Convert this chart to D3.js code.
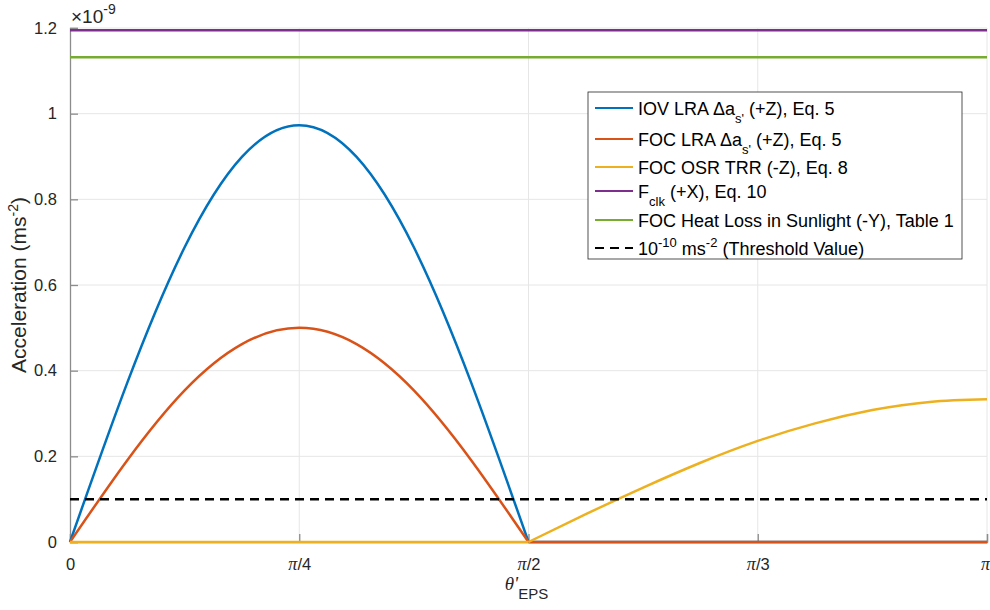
<!DOCTYPE html>
<html>
<head>
<meta charset="utf-8">
<script src="https://cdn.jsdelivr.net/npm/d3@7"></script>
<style>
  body { margin: 0; background: #fff; }
  svg { font-family: "Liberation Sans", Arial, sans-serif; }
</style>
</head>
<body>
<div id="chart"></div>
<script>
// theta' samples, in steps of pi/16 (0 .. pi)
const thetaSteps = d3.range(0, 17);
// acceleration values, units of 1e-9 m s^-2
const iovLra = [0, 0.372, 0.688, 0.899, 0.973, 0.899, 0.688, 0.372, 0, 0, 0, 0, 0, 0, 0, 0, 0];
const focLra = [0, 0.191, 0.354, 0.462, 0.500, 0.462, 0.354, 0.191, 0, 0, 0, 0, 0, 0, 0, 0, 0];
const focOsr = [0, 0, 0, 0, 0, 0, 0, 0, 0, 0.065, 0.127, 0.185, 0.236, 0.277, 0.308, 0.327, 0.333];
const fClk = 1.195;
const heatLoss = 1.132;
const threshold = 0.1;

const xTickLabels = ["0", "\u03C0/4", "\u03C0/2", "\u03C0/3", "\u03C0"];
const yTicks = [0, 0.2, 0.4, 0.6, 0.8, 1, 1.2];

const colors = ["#0072BD", "#D95319", "#EDB120", "#7E2F8E", "#77AC30", "#000000"];

const width = 990, height = 610;
const margin = {left: 70, right: 3, top: 28, bottom: 68};

const svg = d3.select("#chart").append("svg")
  .attr("width", width)
  .attr("height", height);

const x = d3.scaleLinear().domain([0, Math.PI]).range([margin.left, width - margin.right]);
const y = d3.scaleLinear().domain([0, 1.2]).range([height - margin.bottom, margin.top]);

const xTicks = d3.range(0, 5).map(i => i * Math.PI / 4);
const theta = thetaSteps.map(k => k * Math.PI / 16);

// grid
const grid = svg.append("g").attr("stroke", "#e6e6e6").attr("stroke-width", 1);
grid.selectAll("line.gx").data(xTicks.slice(1)).join("line")
  .attr("x1", d => x(d)).attr("x2", d => x(d))
  .attr("y1", y(0)).attr("y2", y(1.2));
grid.selectAll("line.gy").data(yTicks.slice(1)).join("line")
  .attr("x1", x(0)).attr("x2", x(Math.PI))
  .attr("y1", d => y(d)).attr("y2", d => y(d));

// axes
const xAxis = d3.axisBottom(x).tickValues(xTicks).tickSize(-8).tickPadding(12)
  .tickFormat((d, i) => xTickLabels[i]);
const yAxis = d3.axisLeft(y).tickValues(yTicks).tickSize(-8).tickPadding(13)
  .tickFormat(d => d3.format("~g")(d));

const gx = svg.append("g").attr("transform", `translate(0,${y(0)})`).call(xAxis);
const gy = svg.append("g").attr("transform", `translate(${x(0)},0)`).call(yAxis);
[gx, gy].forEach(g => {
  g.select(".domain").attr("stroke", "#8c8c8c").attr("stroke-width", 1.3);
  g.selectAll(".tick line").attr("stroke", "#8c8c8c").attr("stroke-width", 1.3);
  g.selectAll(".tick text").attr("fill", "#262626").attr("font-size", 16.5)
    .attr("font-family", "'Liberation Sans', Arial, sans-serif");
});
// pi in italic serif, the rest in sans
gx.selectAll(".tick text").attr("dy", "0.95em").each(function (d, i) {
  const t = d3.select(this), s = xTickLabels[i];
  t.text(null);
  if (s[0] === "\u03C0") {
    t.append("tspan").attr("font-family", "'Liberation Serif', serif").attr("font-style", "italic")
      .attr("font-size", 18).text("\u03C0");
    t.append("tspan").text(s.slice(1));
  } else {
    t.text(s);
  }
});
gx.selectAll(".tick text").filter((d, i) => i === 4).attr("dx", -2);

// exponent label
const expo = svg.append("text").attr("x", x(0) + 1).attr("y", 23)
  .attr("fill", "#262626").attr("font-size", 19);
expo.append("tspan").text("\u00D710");
expo.append("tspan").attr("dy", -9).attr("font-size", 14).text("-9");

// y label
const yl = svg.append("text")
  .attr("transform", `translate(26,${(y(0) + y(1.2)) / 2}) rotate(-90)`)
  .attr("text-anchor", "middle").attr("fill", "#262626").attr("font-size", 21);
yl.append("tspan").text("Acceleration (ms");
yl.append("tspan").attr("dy", -8).attr("font-size", 14).text("-2");
yl.append("tspan").attr("dy", 8).text(")");

// x label
const xl = svg.append("text").attr("x", x(Math.PI / 2) - 2).attr("y", 590)
  .attr("text-anchor", "middle")
  .attr("fill", "#262626").attr("font-size", 18);
xl.append("tspan").attr("font-family", "'Liberation Serif', serif").attr("font-style", "italic")
  .attr("font-size", 19).text("\u03B8'");
xl.append("tspan").attr("dy", 9).attr("font-size", 15).text("EPS");

// series: each curve drawn as two smooth pieces joined at the corner at pi/2
const line = d3.line().x(d => x(d[0])).y(d => y(d[1])).curve(d3.curveNatural);
const curves = [iovLra, focLra, focOsr];
const pieces = [];
curves.forEach((c, ci) => {
  const pts = c.map((v, i) => [theta[i], v]);
  pieces.push({ci, pts: pts.slice(0, 9)});
  pieces.push({ci, pts: pts.slice(8)});
});
const plot = svg.append("g").attr("fill", "none").attr("stroke-width", 2.5)
  .attr("stroke-linejoin", "round");
plot.selectAll("path.curve").data(pieces).join("path")
  .attr("class", "curve")
  .attr("stroke", d => colors[d.ci])
  .attr("d", d => line(d.pts));

plot.selectAll("line.flat").data([fClk, heatLoss]).join("line")
  .attr("class", "flat")
  .attr("stroke", (d, i) => colors[3 + i])
  .attr("x1", x(0)).attr("x2", x(Math.PI))
  .attr("y1", d => y(d)).attr("y2", d => y(d));

plot.append("line")
  .attr("stroke", colors[5]).attr("stroke-dasharray", "9,6")
  .attr("x1", x(0)).attr("x2", x(Math.PI))
  .attr("y1", y(threshold)).attr("y2", y(threshold));

// legend
const legend = svg.append("g").attr("transform", "translate(588,92)");
legend.append("rect").attr("width", 374).attr("height", 167)
  .attr("fill", "#fff").attr("stroke", "#262626").attr("stroke-width", 0.8);

const rowsY = [16, 47, 75, 99, 128, 156];
// [text, shift]: 1 = subscript, 2 = superscript, -1/-2 = back to baseline
const items = [
  [["IOV LRA \u0394a", 0], ["s'", 1], [" (+Z), Eq. 5", -1]],
  [["FOC LRA \u0394a", 0], ["s'", 1], [" (+Z), Eq. 5", -1]],
  [["FOC OSR TRR (-Z), Eq. 8", 0]],
  [["F", 0], ["clk", 1], [" (+X), Eq. 10", -1]],
  [["FOC Heat Loss in Sunlight (-Y), Table 1", 0]],
  [["10", 0], ["-10", 2], [" ms", -2], ["-2", 2], [" (Threshold Value)", -2]]
];
const shiftDy = {0: 0, 1: 8, "-1": -8, 2: -8, "-2": 8};
const row = legend.selectAll("g.row").data(items).join("g")
  .attr("class", "row")
  .attr("transform", (d, i) => `translate(0,${rowsY[i]})`);
row.append("line")
  .attr("x1", 7).attr("x2", 45)
  .attr("stroke", (d, i) => colors[i]).attr("stroke-width", 2.2)
  .attr("stroke-dasharray", (d, i) => i === 5 ? "9,6" : null);
row.append("text").attr("x", 50).attr("y", 6.5)
  .attr("fill", "#000").attr("font-size", 18)
  .selectAll("tspan").data(d => d).join("tspan")
  .attr("dy", d => shiftDy[d[1]])
  .attr("font-size", d => (d[1] === 1 || d[1] === 2) ? 13 : 18)
  .text(d => d[0]);
</script>
</body>
</html>
